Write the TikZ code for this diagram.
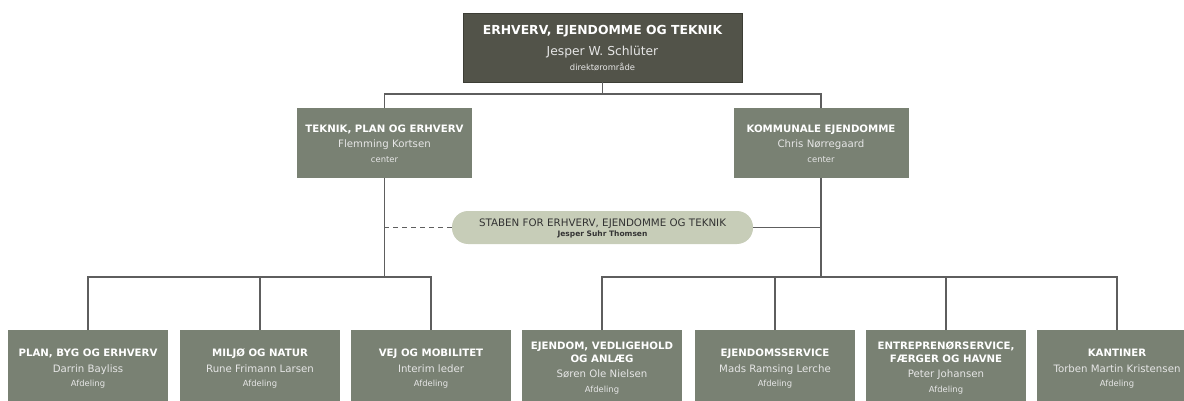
\documentclass[tikz,border=0pt]{standalone}
\usepackage{fontspec}
\setmainfont{DejaVu Sans}
\definecolor{topc}{HTML}{525349}
\definecolor{topb}{HTML}{3C3D35}
\definecolor{midc}{HTML}{798173}
\definecolor{stabc}{HTML}{C7CDB8}
\definecolor{linec}{HTML}{5E5E5E}
\definecolor{namec}{HTML}{E6E6E6}
\definecolor{stabt}{HTML}{333333}
\tikzset{
  topbox/.style={fill=topc, draw=topb, line width=0.8pt, minimum width=279pt, minimum height=69pt, inner sep=0pt},
  midbox/.style={fill=midc, draw=none, minimum width=175pt, minimum height=70pt, inner sep=0pt},
  deptbox/.style={fill=midc, draw=none, minimum width=160pt, minimum height=80pt, inner sep=0pt},
  stabbox/.style={fill=stabc, draw=none, rounded corners=16pt, minimum width=301pt, minimum height=33pt, inner sep=0pt},
  conn/.style={draw=linec, line width=1.4pt},
  dashconn/.style={draw=linec, line width=1.4pt, dash pattern=on 5pt off 4pt},
  txt/.style={anchor=base, inner sep=0pt},
  bigtitle/.style={txt, text=white, font=\fontsize{12.4}{14}\selectfont\bfseries},
  bigname/.style={txt, text=namec, font=\fontsize{12.3}{14}\selectfont},
  title/.style={txt, text=white, font=\fontsize{10.2}{12}\selectfont\bfseries},
  pname/.style={txt, text=namec, font=\fontsize{10.2}{12}\selectfont},
  small/.style={txt, text=namec, font=\fontsize{8.4}{9}\selectfont},
  stabtitle/.style={txt, text=stabt, font=\fontsize{10.3}{12}\selectfont},
  stabname/.style={txt, text=stabt, font=\fontsize{7.5}{9}\selectfont\bfseries},
}
\begin{document}
\begin{tikzpicture}[x=1pt,y=-1pt]
\useasboundingbox (0,0) rectangle (1184,401);
\clip (0,0) rectangle (1184,401);
% boxes
\node[topbox] (top) at (602.5,47.5) {};
\node[midbox] (midL) at (384.5,143) {};
\node[midbox] (midR) at (821,143) {};
\node[stabbox] (stab) at (602.5,227.5) {};
\node[deptbox] (b1) at (88,370) {};
\node[deptbox] (b2) at (260,370) {};
\node[deptbox] (b3) at (431,370) {};
\node[deptbox] (b4) at (602,370) {};
\node[deptbox] (b5) at (775,370) {};
\node[deptbox] (b6) at (946,370) {};
\node[deptbox] (b7) at (1117,370) {};
% junctions
\coordinate (j1) at (602.5,94);
\coordinate (jL) at (384.5,277);
\coordinate (jR) at (821,277);
% connectors
\draw[conn] (top.south) -- (j1);
\draw[conn] (midL.north) |- (j1) -| (midR.north);
\draw[conn] (midL.south) -- (jL);
\draw[conn] (b1.north) |- (jL) -| (b3.north);
\draw[conn] (b2.north) -- (b2.north |- jL);
\draw[conn] (midR.south) -- (jR);
\draw[conn] (b4.north) |- (jR) -| (b7.north);
\draw[conn] (b5.north) -- (b5.north |- jR);
\draw[conn] (b6.north) -- (b6.north |- jR);
\draw[dashconn] (stab.west) -- (stab.west -| midL.south);
\draw[conn] (stab.east) -- (stab.east -| midR.south);
% texts
\node[bigtitle] (topt) at (602.5,35) {ERHVERV, EJENDOMME OG TEKNIK};
\node[bigname] (topn) at (602.5,55.7) {Jesper W. Schlüter};
\node[small] (tops) at (602.5,71) {direktørområde};
\node[title] (mLt) at (384.5,133) {TEKNIK, PLAN OG ERHVERV};
\node[pname] (mLn) at (384.5,148) {Flemming Kortsen};
\node[small] (mLs) at (384.5,162.5) {center};
\node[title] (mRt) at (821,133) {KOMMUNALE EJENDOMME};
\node[pname] (mRn) at (821,148) {Chris Nørregaard};
\node[small] (mRs) at (821,162.5) {center};
\node[stabtitle] (st) at (602.5,226) {STABEN FOR ERHVERV, EJENDOMME OG TEKNIK};
\node[stabname] (sn) at (602.5,236.7) {Jesper Suhr Thomsen};
% single-line departments
\node[title] (b1t) at (88,356) {PLAN, BYG OG ERHVERV};
\node[pname] (b1n) at (88,372) {Darrin Bayliss};
\node[small] (b1s) at (88,386.5) {Afdeling};
\node[title] (b2t) at (260,356) {MILJØ OG NATUR};
\node[pname] (b2n) at (260,372) {Rune Frimann Larsen};
\node[small] (b2s) at (260,386.5) {Afdeling};
\node[title] (b3t) at (431,356) {VEJ OG MOBILITET};
\node[pname] (b3n) at (431,372) {Interim leder};
\node[small] (b3s) at (431,386.5) {Afdeling};
\node[title] (b5t) at (775,356) {EJENDOMSSERVICE};
\node[pname] (b5n) at (775,372) {Mads Ramsing Lerche};
\node[small] (b5s) at (775,386.5) {Afdeling};
\node[title] (b7t) at (1117,356) {KANTINER};
\node[pname] (b7n) at (1117,372) {Torben Martin Kristensen};
\node[small] (b7s) at (1117,386.5) {Afdeling};
% two-line departments
\node[title] (b4t) at (602,349.5) {EJENDOM, VEDLIGEHOLD};
\node[title] (b4u) at (602,362.5) {OG ANLÆG};
\node[pname] (b4n) at (602,377.5) {Søren Ole Nielsen};
\node[small] (b4s) at (602,392.5) {Afdeling};
\node[title] (b6t) at (946,349.5) {ENTREPRENØRSERVICE,};
\node[title] (b6u) at (946,362.5) {FÆRGER OG HAVNE};
\node[pname] (b6n) at (946,377.5) {Peter Johansen};
\node[small] (b6s) at (946,392.5) {Afdeling};
\end{tikzpicture}
\end{document}
